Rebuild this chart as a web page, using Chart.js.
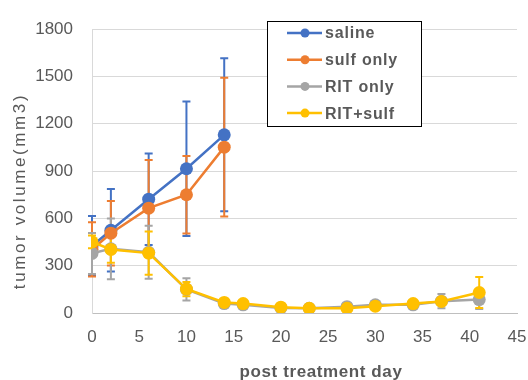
<!DOCTYPE html>
<html>
<head>
<meta charset="utf-8">
<script src="https://cdn.jsdelivr.net/npm/chart.js@4/dist/chart.umd.min.js"></script>
<style>
  html, body { margin: 0; padding: 0; background: #fff; }
  #wrap { width: 528px; height: 380px; position: relative; }
</style>
</head>
<body>
<div id="wrap"><canvas id="chart" width="528" height="380"></canvas></div>
<script>
// days of measurement
const earlyDays = [0, 2, 6, 10, 14];
const allDays = [0, 2, 6, 10, 14, 16, 20, 23, 27, 30, 34, 37, 41];

// mean tumor volume (mm3) and error (+/-)
const saline = [425, 525, 722, 915, 1130];
const salineErr = [190, 262, 290, 427, 485];
const sulfOnly = [403, 506, 665, 750, 1052];
const sulfOnlyErr = [172, 205, 305, 245, 440];
const ritOnly = [378, 407, 385, 150, 60, 52, 32, 30, 40, 52, 52, 75, 85];
const ritOnlyErr = [130, 193, 168, 70, 14, 10, 8, 8, 12, 12, 12, 45, 60];
const ritSulf = [451, 403, 380, 152, 67, 60, 37, 30, 30, 43, 60, 73, 130];
const ritSulfErr = [40, 85, 137, 45, 10, 8, 6, 6, 8, 8, 10, 12, 98];

const seriesLabels = ['saline', 'sulf only', 'RIT only', 'RIT+sulf'];
const seriesColors = ['#4472c4', '#ed7d31', '#a5a5a5', '#ffc000'];

const xTicks = { min: 0, max: 45, step: 5 };
const yTicks = { min: 0, max: 1800, step: 300 };

const TEXT = '#595959';

function pts(days, vals) {
  return days.map((d, i) => ({ x: d, y: vals[i] }));
}

const errs = [salineErr, sulfOnlyErr, ritOnlyErr, ritSulfErr];

// error bars, drawn under the lines
const errorBars = {
  id: 'errorBars',
  beforeDatasetsDraw(chart) {
    const ctx = chart.ctx;
    const xs = chart.scales.x, ys = chart.scales.y;
    chart.data.datasets.forEach((ds, i) => {
      const e = errs[i];
      ctx.save();
      ctx.strokeStyle = ds.borderColor;
      ctx.lineWidth = 2;
      ds.data.forEach((p, j) => {
        const px = xs.getPixelForValue(p.x);
        const t = ys.getPixelForValue(p.y + e[j]);
        const b = ys.getPixelForValue(p.y - e[j]);
        ctx.beginPath();
        ctx.moveTo(px, t); ctx.lineTo(px, b);
        ctx.moveTo(px - 4, t); ctx.lineTo(px + 4, t);
        ctx.moveTo(px - 4, b); ctx.lineTo(px + 4, b);
        ctx.stroke();
      });
      ctx.restore();
    });
  }
};

// boxed legend inside plot + axis titles
const extras = {
  id: 'extras',
  afterDraw(chart) {
    const ctx = chart.ctx;
    ctx.save();
    // legend box
    const bx = 267.5, by = 21.5, bw = 154, bh = 105;
    ctx.fillStyle = '#fff';
    ctx.fillRect(bx, by, bw, bh);
    ctx.strokeStyle = '#000';
    ctx.lineWidth = 1;
    ctx.strokeRect(bx, by, bw, bh);
    ctx.font = 'bold 16px "Liberation Sans", Arial, sans-serif';
    ctx.letterSpacing = '0.8px';
    ctx.textBaseline = 'middle';
    ctx.textAlign = 'left';
    chart.data.datasets.forEach((ds, i) => {
      const y = 33 + i * 26.7;
      ctx.strokeStyle = ds.borderColor;
      ctx.lineWidth = 2.5;
      ctx.beginPath(); ctx.moveTo(287, y); ctx.lineTo(322, y); ctx.stroke();
      ctx.fillStyle = ds.borderColor;
      ctx.beginPath(); ctx.arc(305, y, 4.5, 0, Math.PI * 2); ctx.fill();
      ctx.fillStyle = TEXT;
      ctx.fillText(ds.label, 325, y + 1);
    });
    // x title
    ctx.font = 'bold 17px "Liberation Sans", Arial, sans-serif';
    ctx.letterSpacing = '0.6px';
    ctx.textAlign = 'center';
    ctx.fillStyle = TEXT;
    ctx.fillText('post treatment day', 321, 372);
    // y title
    ctx.font = '17px "Liberation Sans", Arial, sans-serif';
    ctx.letterSpacing = '2.6px';
    ctx.translate(20, 191);
    ctx.rotate(-Math.PI / 2);
    ctx.fillText('tumor volume(mm3)', 0, 0);
    ctx.restore();
  }
};

// later series sit on top (lower order = drawn last)
const makeSet = (i, data) => ({
  label: seriesLabels[i],
  data: data,
  order: 4 - i,
  borderColor: seriesColors[i],
  backgroundColor: seriesColors[i],
  pointBackgroundColor: seriesColors[i],
  pointBorderWidth: 0,
  pointRadius: 6.5,
  borderWidth: 2.5,
  tension: 0,
  fill: false
});

new Chart(document.getElementById('chart').getContext('2d'), {
  type: 'line',
  data: {
    datasets: [
      makeSet(0, pts(earlyDays, saline)),
      makeSet(1, pts(earlyDays, sulfOnly)),
      makeSet(2, pts(allDays, ritOnly)),
      makeSet(3, pts(allDays, ritSulf))
    ]
  },
  options: {
    responsive: false,
    animation: false,
    events: [],
    layout: { padding: { top: 18, right: 11, left: 0, bottom: 0 } },
    scales: {
      x: {
        type: 'linear',
        min: xTicks.min,
        max: xTicks.max,
        ticks: { stepSize: xTicks.step, color: TEXT, padding: 14,
                 callback: v => String(v),
                 font: { family: '"Liberation Sans", Arial, sans-serif', size: 17 } },
        grid: { display: false, drawTicks: false },
        border: { display: true, color: '#bfbfbf', width: 1 },
        afterFit(s) { s.height = 67; s.paddingLeft = 0; s.paddingRight = 0; }
      },
      y: {
        min: yTicks.min,
        max: yTicks.max,
        ticks: { stepSize: yTicks.step, color: TEXT, padding: 19,
                 callback: v => String(v),
                 font: { family: '"Liberation Sans", Arial, sans-serif', size: 17 } },
        grid: { color: '#d9d9d9', drawTicks: false, lineWidth: 1 },
        border: { display: true, color: '#d9d9d9', width: 1 },
        afterFit(s) { s.width = 92; }
      }
    },
    plugins: {
      legend: { display: false },
      tooltip: { enabled: false }
    }
  },
  plugins: [errorBars, extras]
});
</script>
</body>
</html>
